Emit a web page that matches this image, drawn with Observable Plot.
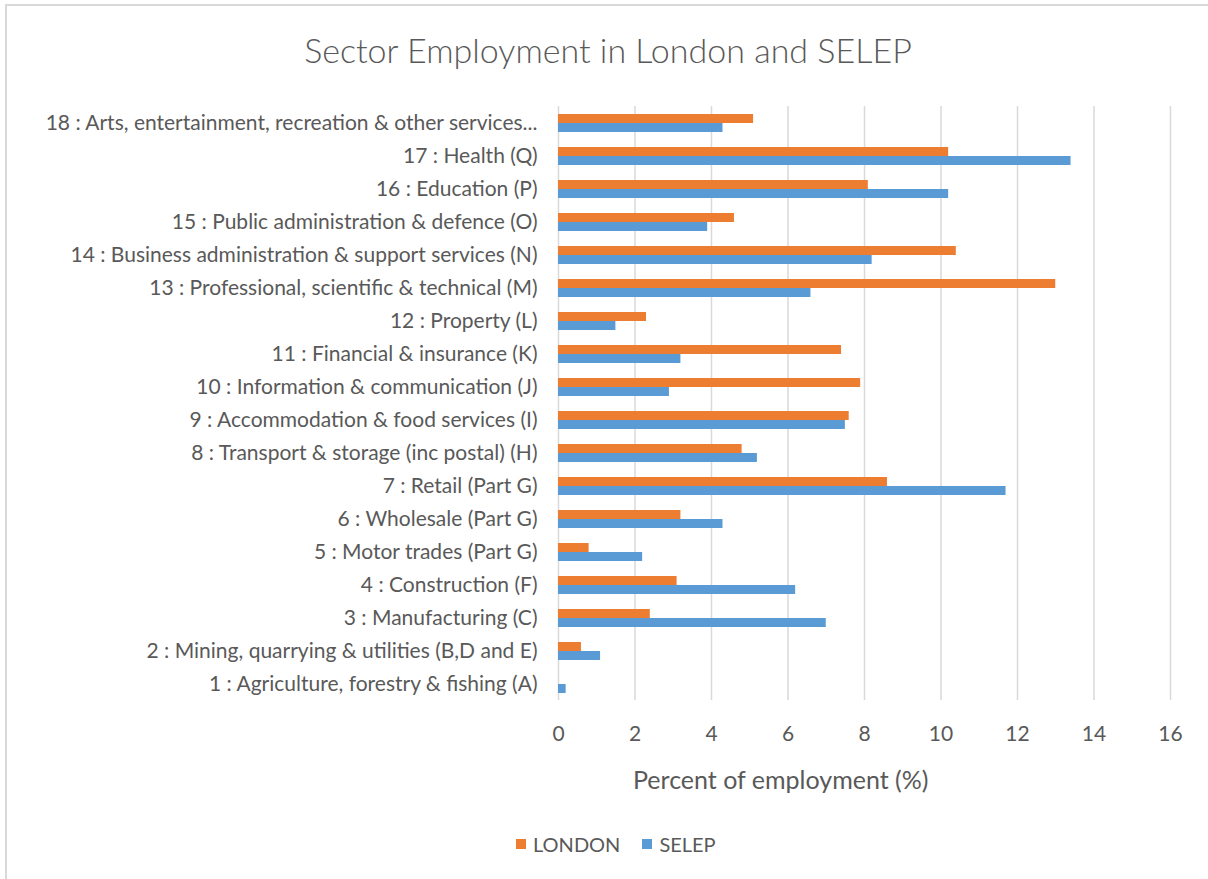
<!DOCTYPE html>
<html><head><meta charset="utf-8">
<script src="https://cdn.jsdelivr.net/npm/d3@7"></script>
<script src="https://cdn.jsdelivr.net/npm/@observablehq/plot@0.6"></script>
<style>
body{margin:0;background:#fff;font-family:Lato, "Open Sans", sans-serif;color:#595959}
#wrap{position:relative;width:1208px;height:879px;overflow:hidden;background:#fff}
#frame{position:absolute;left:5px;top:4px;width:1400px;height:1000px;border-left:2px solid #d9d9d9;border-top:2px solid #d9d9d9;box-sizing:border-box}
#title{position:absolute;top:28px;left:0;width:1216px;text-align:center;font-size:34px;line-height:44px;font-weight:300}
#chart{position:absolute;left:0;top:0}
#xlabel{position:absolute;top:764px;left:633px;font-size:25px;line-height:30px;white-space:nowrap}
#legend{position:absolute;top:831px;left:516px;font-size:20px;line-height:26px;display:flex;align-items:center;white-space:nowrap}
.sw{display:inline-block;width:10px;height:10px;margin-right:7px}
.item{display:flex;align-items:center;margin-right:22px}
</style></head>
<body>
<div id="wrap">
  <div id="frame"></div>
  <div id="chart"></div>
  <div id="title">Sector Employment in London and SELEP</div>
  <div id="xlabel">Percent of employment (%)</div>
  <div id="legend"></div>
</div>
<script>
const categories = [
  "1 : Agriculture, forestry & fishing (A)",
  "2 : Mining, quarrying & utilities (B,D and E)",
  "3 : Manufacturing (C)",
  "4 : Construction (F)",
  "5 : Motor trades (Part G)",
  "6 : Wholesale (Part G)",
  "7 : Retail (Part G)",
  "8 : Transport & storage (inc postal) (H)",
  "9 : Accommodation & food services (I)",
  "10 : Information & communication (J)",
  "11 : Financial & insurance (K)",
  "12 : Property (L)",
  "13 : Professional, scientific & technical (M)",
  "14 : Business administration & support services (N)",
  "15 : Public administration & defence (O)",
  "16 : Education (P)",
  "17 : Health (Q)",
  "18 : Arts, entertainment, recreation & other services..."
];
const london = [0.0, 0.6, 2.4, 3.1, 0.8, 3.2, 8.6, 4.8, 7.6, 7.9, 7.4, 2.3, 13.0, 10.4, 4.6, 8.1, 10.2, 5.1];
const selep  = [0.2, 1.1, 7.0, 6.2, 2.2, 4.3, 11.7, 5.2, 7.5, 2.9, 3.2, 1.5, 6.6, 8.2, 3.9, 10.2, 13.4, 4.3];
const series = ["LONDON", "SELEP"];
const colors = ["#ED7D31", "#5B9BD5"];
const xTicks = [0, 2, 4, 6, 8, 10, 12, 14, 16];

const table = categories.flatMap((c, i) => [
  {category: c, series: series[0], value: london[i]},
  {category: c, series: series[1], value: selep[i]}
]);

const chart = Plot.plot({
  width: 1208,
  height: 760,
  marginLeft: 558,
  marginRight: 38,
  marginTop: 102,
  marginBottom: 56,
  style: {fontSize: "21px", fontFamily: "Lato, 'Open Sans', sans-serif", color: "#595959", background: "transparent"},
  x: {domain: [0, 16], ticks: xTicks, tickSize: 0, tickPadding: 26, label: null},
  fy: {domain: categories.slice().reverse(), padding: 0, label: null, tickSize: 0, tickPadding: 21},
  y: {domain: series, axis: null, paddingInner: 0, paddingOuter: 0.75},
  color: {domain: series, range: colors},
  marks: [
    Plot.ruleX(xTicks, {stroke: "#d9d9d9", strokeWidth: 1.5}),
    Plot.barX(table, {fy: "category", y: "series", x: "value", fill: "series"})
  ]
});
document.getElementById("chart").appendChild(chart);

const legend = document.getElementById("legend");
series.forEach((s, i) => {
  const item = document.createElement("div");
  item.className = "item";
  const sw = document.createElement("span");
  sw.className = "sw";
  sw.style.background = colors[i];
  item.appendChild(sw);
  item.appendChild(document.createTextNode(s));
  legend.appendChild(item);
});
</script>
</body></html>
